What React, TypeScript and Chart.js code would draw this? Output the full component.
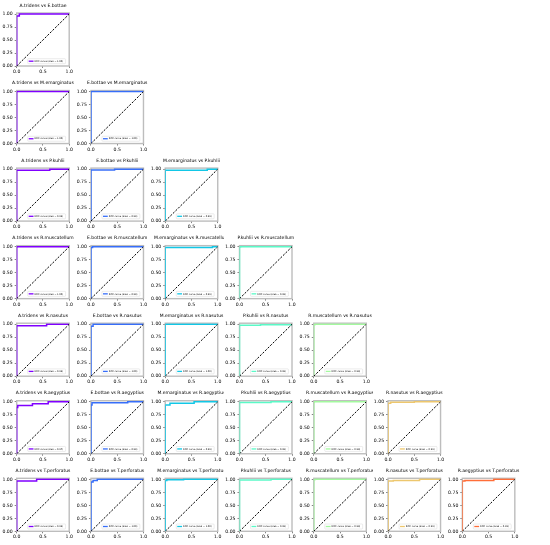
import React, { useEffect, useRef } from "react";
import { Chart, registerables } from "chart.js";

Chart.register(...registerables);

const FONT = '"DejaVu Sans", sans-serif';

const species = [
  "A.tridens",
  "E.bottae",
  "M.emarginatus",
  "P.kuhlii",
  "R.muscatellum",
  "R.nasutus",
  "R.aegyptius",
  "T.perforatus",
];

// colour of the curve for each column (first species of the pair)
const columnColors = ["#8000ff", "#376ef9", "#12c7e6", "#5bf9c7", "#a4f99f", "#edc76e", "#ff6e39"];

const xTicks = [0, 0.5, 1];
const yTicks = [0, 0.25, 0.5, 0.75, 1];

// plots in row-major order: row r compares species[c] vs species[r + 1], c = 0..r
const rocFpr: number[][] = [
  [0, 0, 0.05, 0.05, 1],
  [0, 0, 1],
  [0, 0, 1],
  [0, 0, 0.63, 0.63, 1],
  [0, 0, 0.45, 0.45, 1],
  [0, 0, 0.8, 0.8, 1],
  [0, 0, 1],
  [0, 0, 0.03, 0.03, 1],
  [0, 0, 0.9, 0.9, 1],
  [0, 0, 0.02, 0.02, 1],
  [0, 0, 0.57, 0.57, 1],
  [0, 0, 0.04, 0.04, 1],
  [0, 0, 1],
  [0, 0, 0.4, 0.4, 1, 1],
  [0, 0, 0.02, 0.02, 1],
  [0, 0, 0.02, 0.02, 0.3, 0.3, 0.6, 0.6, 1],
  [0, 0, 0.02, 0.02, 0.7, 0.7, 1],
  [0, 0, 0.09, 0.09, 0.55, 0.55, 1],
  [0, 0, 0.6, 0.6, 1],
  [0, 0, 0.01, 0.01, 1],
  [0, 0, 0.05, 0.05, 0.5, 0.5, 1],
  [0, 0, 0.38, 0.38, 1],
  [0, 0, 0.04, 0.04, 0.12, 0.12, 1],
  [0, 0, 0.03, 0.03, 0.35, 0.35, 1],
  [0, 0, 0.6, 0.6, 1],
  [0, 0, 0.02, 0.02, 1],
  [0, 0, 0.1, 0.1, 0.6, 0.6, 1],
  [0, 0, 0.05, 0.05, 0.6, 0.6, 1],
];

const rocTpr: number[][] = [
  [0, 0.96, 0.96, 1, 1],
  [0, 1, 1],
  [0, 1, 1],
  [0, 0.98, 0.98, 1, 1],
  [0, 0.985, 0.985, 1, 1],
  [0, 0.98, 0.98, 1, 1],
  [0, 1, 1],
  [0, 0.985, 0.985, 1, 1],
  [0, 0.985, 0.985, 1, 1],
  [0, 0.995, 0.995, 1, 1],
  [0, 0.97, 0.97, 1, 1],
  [0, 0.96, 0.96, 1, 1],
  [0, 1, 1],
  [0, 0.98, 0.98, 0.99, 0.99, 1],
  [0, 0.99, 0.99, 1, 1],
  [0, 0.89, 0.89, 0.93, 0.93, 0.96, 0.96, 1, 1],
  [0, 0.94, 0.94, 0.98, 0.98, 1, 1],
  [0, 0.94, 0.94, 0.97, 0.97, 1, 1],
  [0, 0.985, 0.985, 1, 1],
  [0, 0.99, 0.99, 1, 1],
  [0, 0.97, 0.97, 0.99, 0.99, 1, 1],
  [0, 0.97, 0.97, 1, 1],
  [0, 0.95, 0.95, 0.98, 0.98, 1, 1],
  [0, 0.98, 0.98, 0.99, 0.99, 1, 1],
  [0, 0.985, 0.985, 1, 1],
  [0, 0.99, 0.99, 1, 1],
  [0, 0.97, 0.97, 0.98, 0.98, 1, 1],
  [0, 0.97, 0.97, 0.98, 0.98, 1, 1],
];

const aucValues = [
  1.0,
  1.0, 1.0,
  0.99, 0.99, 0.99,
  1.0, 0.99, 0.99, 0.99,
  0.99, 1.0, 1.0, 0.99, 0.99,
  0.97, 0.99, 0.99, 0.99, 0.99, 0.99,
  0.99, 1.0, 1.0, 0.99, 0.99, 0.99, 0.99,
];

// layout (pixels)
const AX_LEFT0 = 16.7;
const AX_DX = 74.27;
const AX_TOP0 = 13;
const AX_DY = 77.55;
const AX_W = 52.5;
const AX_H = 53;
const X_AXIS_H = 10;
const TITLE_SIZE = 4.5;
const TITLE_OFFSET = 7.6; // title centre above the axes

const framePlugin = {
  id: "frame",
  beforeDatasetsDraw(chart: any) {
    const { left, top, right, bottom } = chart.chartArea;
    const ctx = chart.ctx;
    ctx.save();
    ctx.strokeStyle = "#bdbdbd";
    ctx.lineWidth = 1.4;
    ctx.strokeRect(left, top, right - left, bottom - top);
    ctx.restore();
  },
};

const axesTitlePlugin = {
  id: "axesTitle",
  afterDraw(chart: any, _args: any, opts: any) {
    const { left, right, top } = chart.chartArea;
    const ctx = chart.ctx;
    ctx.save();
    ctx.font = `${TITLE_SIZE}px ${FONT}`;
    ctx.fillStyle = "#000";
    ctx.textAlign = "center";
    ctx.textBaseline = "middle";
    ctx.fillText(opts.text, (left + right) / 2, top - TITLE_OFFSET);
    ctx.restore();
  },
};

const rocLegendPlugin = {
  id: "rocLegend",
  afterDatasetsDraw(chart: any) {
    const ds = chart.data.datasets[1];
    const { right, bottom } = chart.chartArea;
    const ctx = chart.ctx;
    const fs = 2.35;
    ctx.save();
    ctx.font = `${fs}px ${FONT}`;
    const tw = ctx.measureText(ds.label).width;
    const h = 5;
    const w = 1 + 4.8 + 1 + tw + 2.4;
    const x = right - 3.6 - w;
    const y = bottom - 2.3 - h;
    ctx.fillStyle = "rgba(255,255,255,0.85)";
    ctx.strokeStyle = "#d0d0d0";
    ctx.lineWidth = 0.4;
    ctx.beginPath();
    if ((ctx as any).roundRect) (ctx as any).roundRect(x, y, w, h, 0.8);
    else ctx.rect(x, y, w, h);
    ctx.fill();
    ctx.stroke();
    ctx.strokeStyle = ds.borderColor;
    ctx.lineWidth = 1.3;
    ctx.beginPath();
    ctx.moveTo(x + 1, y + h / 2);
    ctx.lineTo(x + 5.8, y + h / 2);
    ctx.stroke();
    ctx.fillStyle = "#000";
    ctx.textBaseline = "middle";
    ctx.textAlign = "left";
    ctx.fillText(ds.label, x + 6.8, y + h / 2 + 0.1);
    ctx.restore();
  },
};

function RocPlot({ row, col, idx }: { row: number; col: number; idx: number }) {
  const ref = useRef<HTMLCanvasElement | null>(null);

  const axLeft = AX_LEFT0 + AX_DX * col;
  const axTop = AX_TOP0 + AX_DY * row;
  const canvasLeft = Math.floor(axLeft - 17);
  const yAxisW = axLeft - canvasLeft;
  const canvasTop = Math.floor(axTop - 11);
  const padTop = axTop - canvasTop;
  const cw = Math.ceil(yAxisW + AX_W + 6);
  const ch = Math.ceil(padTop + AX_H + X_AXIS_H);
  const padRight = cw - yAxisW - AX_W;
  const padBottom = ch - padTop - AX_H - X_AXIS_H;

  useEffect(() => {
    const canvas = ref.current;
    if (!canvas) return;
    const color = columnColors[col];
    const fpr = rocFpr[idx];
    const tpr = rocTpr[idx];
    const chart = new Chart(canvas, {
      type: "line",
      data: {
        datasets: [
          {
            label: "",
            data: [
              { x: 0, y: 0 },
              { x: 1, y: 1 },
            ],
            borderColor: "#000",
            borderWidth: 1,
            borderDash: [2.2, 1.4],
            pointRadius: 0,
            fill: false,
          },
          {
            label: `ROC curve (area = ${aucValues[idx].toFixed(2)})`,
            data: fpr.map((f, i) => ({ x: f, y: tpr[i] })),
            borderColor: color,
            borderWidth: 1.5,
            pointRadius: 0,
            fill: false,
            tension: 0,
          },
        ],
      },
      options: {
        responsive: false,
        animation: false,
        devicePixelRatio: 1,
        layout: { padding: { left: 0, top: padTop, right: padRight, bottom: padBottom } },
        plugins: {
          legend: { display: false },
          tooltip: { enabled: false },
          title: { display: false },
          axesTitle: { text: `${species[col]} vs ${species[row + 1]}` },
        },
        scales: {
          x: {
            type: "linear",
            min: 0,
            max: 1,
            afterBuildTicks: (s: any) => {
              s.ticks = xTicks.map((v) => ({ value: v }));
            },
            afterFit: (s: any) => {
              s.height = X_AXIS_H;
              s.paddingLeft = 0;
              s.paddingRight = 0;
            },
            ticks: {
              callback: (v: any) => Number(v).toFixed(1),
              font: { size: 4.6, family: FONT },
              color: "#000",
              padding: 1,
              maxRotation: 0,
              autoSkip: false,
            },
            grid: { drawOnChartArea: false, drawTicks: true, tickLength: 2, color: "#333", lineWidth: 0.6 },
            border: { display: false },
          },
          y: {
            type: "linear",
            min: 0,
            max: 1.02,
            afterBuildTicks: (s: any) => {
              s.ticks = yTicks.map((v) => ({ value: v }));
            },
            afterFit: (s: any) => {
              s.width = yAxisW;
              s.paddingTop = 0;
              s.paddingBottom = 0;
            },
            ticks: {
              callback: (v: any) => Number(v).toFixed(2),
              font: { size: 4.6, family: FONT },
              color: "#000",
              padding: 2,
              autoSkip: false,
            },
            grid: { drawOnChartArea: false, drawTicks: true, tickLength: 2, color: "#333", lineWidth: 0.6 },
            border: { display: false },
          },
        },
      } as any,
      plugins: [framePlugin, rocLegendPlugin, axesTitlePlugin],
    });
    return () => chart.destroy();
  }, [row, col, idx]);

  return (
    <canvas
      ref={ref}
      width={cw}
      height={ch}
      style={{ position: "absolute", left: canvasLeft, top: canvasTop, width: cw, height: ch }}
    />
  );
}

export default function App() {
  const plots: { row: number; col: number; idx: number }[] = [];
  let idx = 0;
  for (let row = 0; row < 7; row++) {
    for (let col = 0; col <= row; col++) {
      plots.push({ row, col, idx });
      idx++;
    }
  }
  return (
    <div style={{ position: "absolute", left: 0, top: 0, width: 550, height: 545, background: "#fff", overflow: "hidden" }}>
      {plots.map((p) => (
        <RocPlot key={p.idx} row={p.row} col={p.col} idx={p.idx} />
      ))}
    </div>
  );
}
